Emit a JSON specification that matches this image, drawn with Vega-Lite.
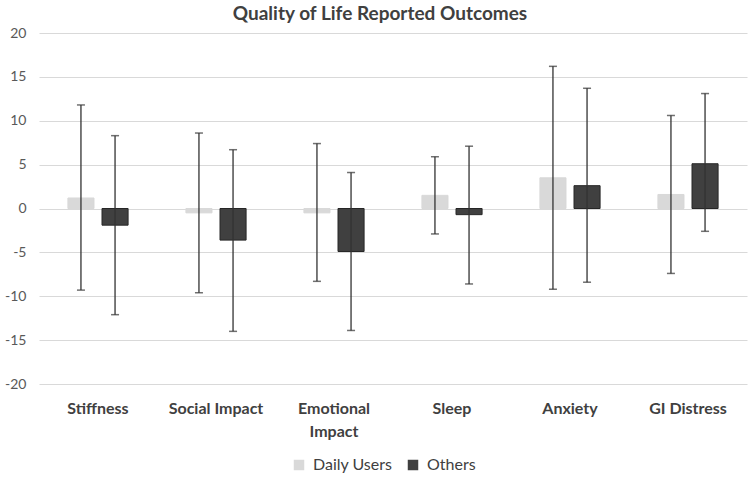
{
  "$schema": "https://vega.github.io/schema/vega-lite/v6.json",
  "width": 708,
  "height": 351,
  "autosize": "none",
  "padding": {"left": 39, "top": 33, "right": 3, "bottom": 94},
  "background": "white",
  "title": {"text": "Quality of Life Reported Outcomes", "font": "Lato", "fontSize": 19, "fontWeight": "bold", "color": "#404040", "anchor": "middle", "offset": 2, "dx": -13},
  "config": {"view": {"stroke": null}},
  "data": {"values": [
    {"category": "Stiffness", "group": "Daily Users", "mean": 1.2, "low": -9.3, "high": 11.8},
    {"category": "Stiffness", "group": "Others", "mean": -1.9, "low": -12.1, "high": 8.3},
    {"category": "Social Impact", "group": "Daily Users", "mean": -0.5, "low": -9.6, "high": 8.6},
    {"category": "Social Impact", "group": "Others", "mean": -3.6, "low": -14.0, "high": 6.7},
    {"category": "Emotional Impact", "group": "Daily Users", "mean": -0.5, "low": -8.3, "high": 7.4},
    {"category": "Emotional Impact", "group": "Others", "mean": -4.9, "low": -13.9, "high": 4.1},
    {"category": "Sleep", "group": "Daily Users", "mean": 1.5, "low": -2.9, "high": 5.9},
    {"category": "Sleep", "group": "Others", "mean": -0.7, "low": -8.6, "high": 7.1},
    {"category": "Anxiety", "group": "Daily Users", "mean": 3.5, "low": -9.2, "high": 16.2},
    {"category": "Anxiety", "group": "Others", "mean": 2.6, "low": -8.4, "high": 13.7},
    {"category": "GI Distress", "group": "Daily Users", "mean": 1.6, "low": -7.4, "high": 10.6},
    {"category": "GI Distress", "group": "Others", "mean": 5.1, "low": -2.6, "high": 13.1}
  ]},
  "encoding": {
    "x": {"field": "category", "type": "nominal", "sort": ["Stiffness", "Social Impact", "Emotional Impact", "Sleep", "Anxiety", "GI Distress"],
      "scale": {"paddingInner": 0.49, "paddingOuter": 0.245},
      "axis": {"title": null, "domain": false, "ticks": false, "labelAngle": 0, "labelPadding": 16, "labelFont": "Lato", "labelFontSize": 16, "labelFontWeight": "bold", "labelColor": "#404040", "labelLineHeight": 23,
        "labelExpr": "datum.label == 'Emotional Impact' ? ['Emotional', 'Impact'] : datum.label"}},
    "xOffset": {"field": "group", "type": "nominal", "sort": ["Daily Users", "Others"], "scale": {"paddingInner": 0.235}}
  },
  "layer": [
    {
      "mark": {"type": "bar", "strokeWidth": 1},
      "encoding": {
        "y": {"field": "mean", "type": "quantitative", "scale": {"domain": [-20, 20], "nice": false},
          "axis": {"title": null, "values": [-20, -15, -10, -5, 0, 5, 10, 15, 20], "grid": true, "gridColor": "#d9d9d9", "gridWidth": 1.2, "domain": false, "ticks": false, "labelPadding": 13, "labelFont": "Lato", "labelFontSize": 14, "labelColor": "#595959", "labelExpr": "'' + datum.value"}},
        "color": {"field": "group", "type": "nominal", "sort": ["Daily Users", "Others"], "scale": {"range": ["#d9d9d9", "#404040"]},
          "legend": {"title": null, "orient": "none", "legendX": 252, "legendY": 424, "direction": "horizontal", "symbolType": "square", "symbolSize": 110, "symbolStrokeWidth": 0, "labelFont": "Lato", "labelFontSize": 16, "labelColor": "#404040", "labelOffset": 6, "columnPadding": 12}},
        "stroke": {"field": "group", "type": "nominal", "sort": ["Daily Users", "Others"], "scale": {"range": ["#d9d9d9", "#262626"]}, "legend": null}
      }
    },
    {
      "mark": {"type": "rule", "color": "#333333", "strokeWidth": 1.3},
      "encoding": {"y": {"field": "low", "type": "quantitative"}, "y2": {"field": "high"}}
    },
    {
      "mark": {"type": "tick", "color": "#333333", "size": 8, "thickness": 1.5},
      "encoding": {"y": {"field": "low", "type": "quantitative"}}
    },
    {
      "mark": {"type": "tick", "color": "#333333", "size": 8, "thickness": 1.5},
      "encoding": {"y": {"field": "high", "type": "quantitative"}}
    }
  ]
}
